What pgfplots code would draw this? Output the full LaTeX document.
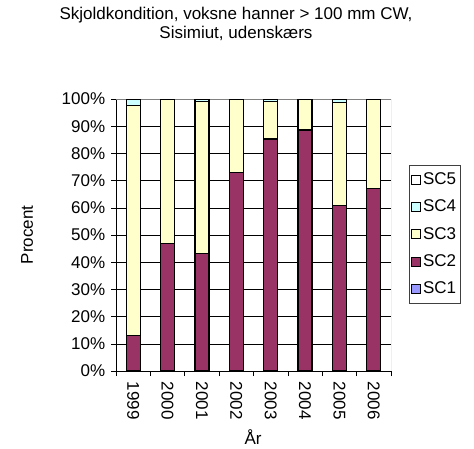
\documentclass[border=0pt]{standalone}
\usepackage{pgfplots}
\pgfplotsset{compat=1.18}
\usepackage{fontspec}
\setmainfont{Liberation Sans}
\definecolor{scone}{HTML}{9999FF}
\definecolor{sctwo}{HTML}{993366}
\definecolor{scthree}{HTML}{FFFFCC}
\definecolor{scfour}{HTML}{CCFFFF}
\definecolor{scfive}{HTML}{FFFFFF}
\begin{document}
\fontsize{17}{20}\selectfont
\begin{tikzpicture}[x=1pt,y=1pt]
\useasboundingbox (0,0) rectangle (474,448);
\node[align=center, font=\fontsize{17}{19}\selectfont] at (236,424) {Skjoldkondition, voksne hanner > 100 mm CW,\\Sisimiut, udenskærs};
\node[rotate=90, font=\fontsize{17}{20}\selectfont] at (27,213) {Procent};
\node[font=\fontsize{17}{20}\selectfont] at (253,11) {År};
\begin{axis}[
  at={(116pt,77pt)}, anchor=south west, scale only axis,
  width=275pt, height=272pt,
  ybar stacked, bar width=14pt,
  xmin=-0.5, xmax=7.5, ymin=0, ymax=100,
  xtick={0,...,7},
  xticklabels={1999,2000,2001,2002,2003,2004,2005,2006},
  minor xtick={-0.5,0.5,...,7.5},
  major x tick style={draw=none},
  ytick={0,10,...,100},
  yticklabel={\pgfmathprintnumber{\tick}\%},
  /pgf/number format/assume math mode=true,
  ymajorgrids, grid style={black, line width=0.6pt},
  axis lines*=left,
  axis line style={black, line width=0.8pt, -},
  tick style={black, line width=0.6pt},
  tick align=outside, major tick length=5pt, minor tick length=5pt,
  x tick label style={rotate=-90, anchor=west, font=\fontsize{17}{20}\selectfont},
  y tick label style={font=\fontsize{17}{20}\selectfont},
  every axis plot/.append style={draw=black, line width=1.2pt},
  legend style={at={(1.065,0.757)}, anchor=north west, draw=darkgray, line width=0.5pt,
    font=\fontsize{17}{20}\selectfont, row sep=9pt, inner xsep=2pt, inner ysep=5pt},
  legend cell align=left,
  reverse legend,
  legend image code/.code={\draw[#1, draw=black, line width=1pt] (0pt,-4.5pt) rectangle (9pt,4.5pt);},
]
\addplot[fill=scone] coordinates {(0,0) (1,0) (2,0) (3,0) (4,0) (5,0) (6,0) (7,0)};
\addplot[fill=sctwo] coordinates {(0,13) (1,47) (2,43.3) (3,73) (4,85.3) (5,88.6) (6,60.8) (7,67.2)};
\addplot[fill=scthree] coordinates {(0,84.5) (1,53) (2,55.7) (3,27) (4,13.7) (5,11.4) (6,38) (7,32.8)};
\addplot[fill=scfour] coordinates {(0,2.5) (1,0) (2,1) (3,0) (4,1) (5,0) (6,1.2) (7,0)};
\addplot[fill=scfive] coordinates {(0,0) (1,0) (2,0) (3,0) (4,0) (5,0) (6,0) (7,0)};
\legend{SC1,SC2,SC3,SC4,SC5}
\draw[gray, line width=0.8pt] (rel axis cs:0,1) -- (rel axis cs:1,1) -- (rel axis cs:1,0);
\end{axis}
\end{tikzpicture}
\end{document}
